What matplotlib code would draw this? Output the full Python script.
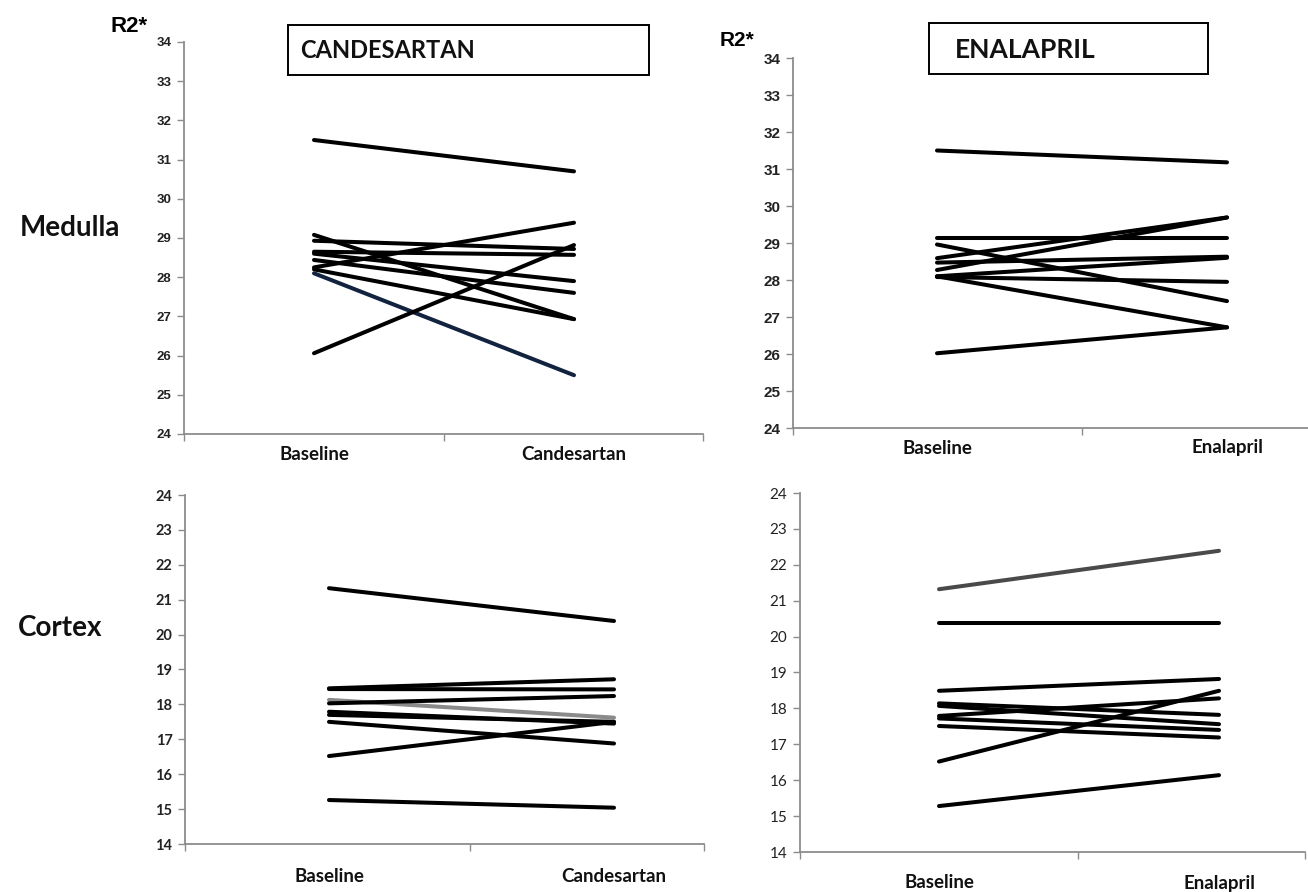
import matplotlib
matplotlib.use("Agg")
import matplotlib.pyplot as plt
from matplotlib.patches import Rectangle

# ---------------- data ----------------
categories_cand = ["Baseline", "Candesartan"]
categories_enal = ["Baseline", "Enalapril"]

med_cand_base = [31.5, 29.08, 28.93, 28.65, 28.60, 28.44, 28.25, 28.20, 28.10, 26.06]
med_cand_post = [30.7, 26.93, 28.72, 28.57, 27.90, 27.60, 29.39, 26.93, 25.50, 28.82]
med_cand_colors = ["black"] * 8 + ["#12233f", "black"]

med_enal_base = [31.5, 29.13, 28.96, 28.59, 28.27, 28.47, 28.10, 28.08, 28.10, 26.02]
med_enal_post = [31.18, 29.13, 27.43, 29.69, 29.69, 28.63, 28.60, 27.95, 26.72, 26.72]
med_enal_colors = ["black"] * 10

cor_cand_base = [21.33, 18.46, 18.44, 18.13, 18.03, 17.79, 17.70, 17.50, 16.52, 15.26]
cor_cand_post = [20.39, 18.72, 18.43, 17.62, 18.24, 17.45, 17.50, 16.88, 17.50, 15.04]
cor_cand_colors = ["black", "black", "black", "#8a8a8a"] + ["black"] * 6

cor_enal_base = [21.32, 20.37, 18.49, 16.52, 17.79, 18.14, 18.07, 17.72, 17.51, 15.28]
cor_enal_post = [22.39, 20.37, 18.82, 18.49, 18.28, 17.82, 17.56, 17.40, 17.19, 16.14]
cor_enal_colors = ["#4a4a4a"] + ["black"] * 9

med_ticks = list(range(24, 35))
cor_ticks = list(range(14, 25))

# ---------------- layout ----------------
W, H = 1308, 892
fig = plt.figure(figsize=(W / 100, H / 100), dpi=100)
fig.patch.set_facecolor("white")

def px_axes(left, right, top, bottom):
    return fig.add_axes([left / W, 1 - bottom / H, (right - left) / W, (bottom - top) / H])

def fx(x):
    return x / W

def fy(y):
    return 1 - y / H

SPINE = "#8c8c8c"

def panel(left, right, top, bottom, c0, c1, mid, base, post, colors, ticks,
          tick_font, tick_size, tick_weight):
    ax = px_axes(left, right, top, bottom)
    unit = c1 - c0
    x0 = (left - c0) / unit
    x1 = (right - c0) / unit
    for b, p, col in zip(base, post, colors):
        ax.plot([0, 1], [b, p], color=col, lw=2.9, solid_capstyle="round", zorder=3)
    ax.set_xlim(x0, x1)
    ax.set_ylim(ticks[0], ticks[-1])
    ax.set_yticks(ticks)
    ax.set_yticklabels([str(t) for t in ticks], fontfamily=tick_font,
                       fontsize=tick_size, fontweight=tick_weight, color="#222222")
    ax.set_xticks([x0, (mid - c0) / unit, x1])
    ax.set_xticklabels([])
    for s in ["top", "right"]:
        ax.spines[s].set_visible(False)
    for s in ["left", "bottom"]:
        ax.spines[s].set_color(SPINE)
        ax.spines[s].set_linewidth(1.3)
    ax.tick_params(axis="both", direction="out", length=5, width=1.0, color=SPINE, pad=4)
    for sp in ax.spines.values():
        sp.set_clip_on(False)
    ax.set_facecolor("none")
    return ax

# Medulla / Candesartan (top-left)
panel(184, 703, 42, 434, 314, 574, 444, med_cand_base, med_cand_post, med_cand_colors,
      med_ticks, "Liberation Sans", 9.5, "bold")
# Medulla / Enalapril (top-right)
panel(793, 1372, 58, 428, 937, 1227, 1082, med_enal_base, med_enal_post, med_enal_colors,
      med_ticks, "Liberation Sans", 11, "bold")
# Cortex / Candesartan (bottom-left)
panel(185, 704, 495, 844, 329, 614, 470, cor_cand_base, cor_cand_post, cor_cand_colors,
      cor_ticks, "Lato", 10.5, "bold")
# Cortex / Enalapril (bottom-right)
panel(800, 1305, 493, 852, 939, 1219, 1078, cor_enal_base, cor_enal_post, cor_enal_colors,
      cor_ticks, "Lato", 11, "normal")

# category labels
cat_font = dict(fontfamily="Lato", fontsize=13.5, fontweight="bold", color="#111111",
                ha="center", va="center")
for x, lab in zip([314, 574], categories_cand):
    fig.text(fx(x), fy(454), lab, **cat_font)
for x, lab in zip([937, 1227], categories_enal):
    fig.text(fx(x), fy(448), lab, **cat_font)
for x, lab in zip([329, 614], categories_cand):
    fig.text(fx(x), fy(877), lab, **cat_font)
for x, lab in zip([939, 1219], categories_enal):
    fig.text(fx(x), fy(883), lab, **cat_font)

# title boxes
def title_box(l, r, t, b, text, tx, size):
    rect = Rectangle((fx(l), fy(b)), (r - l) / W, (b - t) / H, transform=fig.transFigure,
                     fill=False, edgecolor="black", linewidth=1.4)
    fig.patches.append(rect)
    fig.text(fx(tx), fy((t + b) / 2 + 1), text, fontfamily="Lato", fontsize=size,
             fontweight="bold", ha="left", va="center", color="#111111")

title_box(288, 649, 25, 75, "CANDESARTAN", 300, 17)
title_box(929, 1208, 23, 74, "ENALAPRIL", 955, 19)

# R2* labels
fig.text(fx(110), fy(27), "R2*", fontfamily="Liberation Sans", fontsize=16,
         fontweight="bold", ha="left", va="center", color="black")
fig.text(fx(720), fy(40), "R2*", fontfamily="Liberation Sans", fontsize=15,
         fontweight="bold", ha="left", va="center", color="black")

# row labels
fig.text(fx(20), fy(228), "Medulla", fontfamily="Lato", fontsize=20, fontweight="bold",
         ha="left", va="center", color="#111111")
fig.text(fx(18), fy(628), "Cortex", fontfamily="Lato", fontsize=20, fontweight="bold",
         ha="left", va="center", color="#111111")

fig.savefig("out.png", dpi=100, facecolor="white")
